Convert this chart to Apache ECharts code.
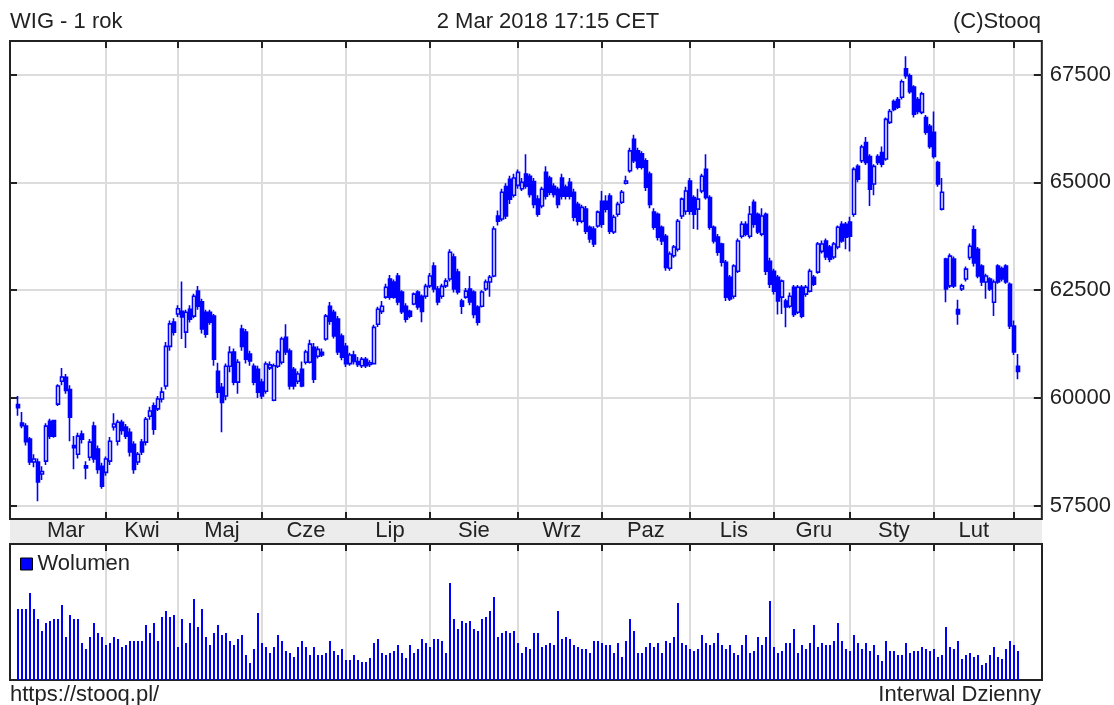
<!DOCTYPE html>
<html><head><meta charset="utf-8">
<script src="https://cdn.jsdelivr.net/npm/echarts@6/dist/echarts.min.js"></script>
<style>html,body{margin:0;padding:0;background:#fff}#c{width:1114px;height:705px}</style>
</head><body><div id="c"></div>
<script>
// ---- data ----
const monthNames = ['Mar','Kwi','Maj','Cze','Lip','Sie','Wrz','Paz','Lis','Gru','Sty','Lut','Mar'];
const monthSessions = [22,18,21,21,21,22,21,22,21,19,21,20,2];
const yTicks = [57500,60000,62500,65000,67500];

const opens = [
59850,59420,59350,59050,58520,58520,58240,58540,59460,59480,59860,60390,60480,60200,58900,58700,59170,58430,58630,59350,58820,58420,
58280,58540,59330,59000,59440,59330,59210,58930,58520,58980,58980,59580,59820,59750,59980,60280,61200,61760,
61950,62010,61530,62060,61900,62480,62230,61990,61990,61900,60620,60250,60050,60740,61070,60370,61600,61530,61020,60740,60670,
60370,60160,60700,59950,60740,60830,61410,61090,60670,60390,60670,60830,60830,61180,60970,61060,61370,62130,61990,61830,61440,
61200,60800,61000,60850,60750,60900,60780,60800,61710,62010,62340,62760,62690,62830,62460,62130,62010,62180,62460,62360,62360,
62600,63060,62530,62360,62600,62760,63270,62920,62250,62340,62530,62460,62110,62130,62530,62690,62830,64220,64150,64900,65070,64700,
64930,64850,65190,65140,65020,64610,64450,65230,65100,64910,64840,65100,64890,65000,64770,64490,64100,64380,63960,63920,63990,
64560,64560,64680,63850,64260,64540,64980,65270,66000,65730,65660,65500,65190,64310,64260,63960,63750,63010,63300,63450,64220,64330,
65030,64650,64380,64800,65300,64650,63960,63730,63570,63150,62800,62360,62940,63750,64030,63750,64540,64260,63800,64260,63170,
62940,62800,62340,62250,62130,62570,61990,62570,62410,62480,62800,62920,63400,63640,63500,63270,63500,64030,64030,
64080,64260,65370,65500,65920,65600,64960,65600,65690,65540,66390,66870,66920,66970,67630,67470,67210,66920,66620,66500,66300,
66160,65460,64380,63220,62600,63220,62050,62530,62760,63260,63900,63450,63060,62690,62760,62220,63060,63000,63060,62640,
61670,60740];
const closes = [
59780,59360,58990,58520,58590,58060,58300,59350,59120,59120,60280,60490,60180,59560,58850,59120,59050,58380,58980,58590,58350,57960,
58590,59000,59400,59440,59250,59120,58750,58350,58700,58750,59510,59700,59280,59980,60140,61200,61720,61530,
62070,61880,61990,61830,62360,62130,61600,61480,61760,60900,60140,59900,60740,61060,60370,60830,61200,60900,60860,60370,60140,
60050,60790,60770,60750,61070,61370,61070,60280,60280,60560,60280,61070,61250,60440,61130,61000,61900,61780,61440,61070,60950,
60800,61000,60850,60780,60900,60750,60820,61640,62060,62130,62570,62340,62340,62230,62000,61830,61900,62410,62110,62010,62590,
62830,62530,62230,62590,62710,63380,62530,62460,62130,62480,62230,61940,61760,62460,62690,62800,63920,64100,64770,64220,64610,65100,
65230,65000,64910,64720,64490,64260,64840,64680,64770,64720,64490,64680,64680,64680,64190,64100,64420,63870,63690,63570,64310,
64030,64380,63870,64190,64490,64770,65030,65730,65500,65350,65350,64890,64490,63960,63730,63640,63030,63340,63500,64100,64610,64800,
64330,64260,64610,65140,64650,63960,63640,63380,63150,62340,62300,63060,63640,64030,63800,64260,64030,63850,64220,62940,62640,
62480,62250,62710,62110,62360,61940,62570,61900,62570,62940,62640,63570,63570,63270,63220,63570,63960,63640,63730,
63750,65300,65070,65820,65460,64840,65370,65460,65420,66460,66640,66690,66740,67330,67470,67100,66580,66640,67050,66160,65830,
65600,64960,64770,62530,63290,62600,61950,62600,62990,63520,63130,62830,62690,62830,62530,62690,62690,62760,62690,61670,
61070,60620];
const lows = [
59590,59300,58900,58450,58400,57610,58100,58450,59050,59080,59820,60300,60100,59000,58350,58600,58950,58120,58550,58500,58250,57900,
58200,58450,59250,58900,59150,59050,58650,58250,58450,58680,58900,59500,59150,59700,59900,60200,61100,61450,
61880,61370,61160,61750,61850,62050,61500,61400,61700,60750,60000,59210,59950,60600,60300,60100,61100,60800,60750,60300,60000,
59980,60100,60650,59930,60700,60780,61000,60200,60200,60330,60250,60780,60800,60350,60920,60950,61330,61700,61380,61000,60880,
60720,60750,60780,60720,60700,60700,60720,60780,61650,61950,62300,62280,62300,62150,61950,61750,61850,62150,62050,61760,62300,
62550,62450,62150,62300,62550,62700,62450,62400,61950,62300,62150,61850,61680,62100,62480,62350,62800,64000,64100,64150,64500,64650,
64850,64800,64850,64650,64400,64200,64400,64600,64700,64650,64400,64600,64600,64600,64100,64000,64050,63800,63600,63500,63950,
63950,64300,63800,63800,64200,64500,64950,65220,65450,65300,65300,64800,64400,63900,63650,63550,62950,62950,63250,63400,64150,64250,
64250,63920,63900,64750,64600,63900,63580,63300,63050,62250,62250,62300,62900,63700,63750,63700,63950,63800,63750,62850,62550,
62400,61940,61950,61640,62080,61880,61950,61850,62350,62450,62600,62880,63350,63200,63150,63220,63450,63600,63450,
63400,64200,65000,65450,65400,64450,64700,65400,65350,65500,66350,66650,66700,66920,67400,67050,66500,66580,66580,66100,65780,
65550,64900,64350,62220,62550,62550,61700,62480,62700,63200,63050,62780,62600,62300,62480,61900,62650,62700,62650,61600,
61000,60440];
const highs = [
60050,59680,59420,59100,58700,58600,58420,59420,59520,59500,60320,60700,60560,60300,59120,59200,59250,58540,59050,59450,58900,58500,
58650,59100,59650,59500,59500,59400,59300,59000,58750,59050,59560,59800,59900,60050,60250,61300,61800,61850,
62150,62700,62050,62150,62420,62600,62300,62050,62050,61950,60820,60350,60800,61200,61150,60900,61700,61600,61100,60800,60750,
60450,60850,60850,60800,61120,61420,61710,61150,60720,60620,60850,61120,61350,61280,61200,61150,61950,62230,62050,61900,61500,
61280,61050,61100,60950,60950,60950,60880,61700,62120,62250,62650,62850,62750,62900,62500,62200,62050,62450,62500,62400,62650,
62900,63150,62600,62650,62780,63450,63350,63000,62300,62550,62830,62500,62150,62500,62750,62850,63980,64350,64850,64980,65150,65200,
65300,65100,65650,65200,65100,64700,64900,65370,65150,64980,64900,65200,64950,65100,64850,64550,64480,64450,64000,63980,64350,
64800,64700,64750,64250,64550,64820,65150,65800,66100,65800,65720,65560,65250,64400,64300,64000,63800,63400,63550,64150,64650,64900,
65100,64700,64850,65200,65650,64700,64000,63800,63600,63200,62850,63100,63700,64100,64100,64450,64600,64300,64400,64300,63250,
63000,62850,62750,62300,62450,62620,62620,62620,62620,63000,62850,63620,63650,63700,63550,63620,64000,64100,64080,
64200,65350,65420,65870,66050,65650,65420,65650,65830,66500,66700,66920,66980,67380,67920,67520,67250,66980,67100,66560,66350,
66640,65500,65100,63250,63350,63280,62280,62650,63050,63580,64000,63500,63100,62880,62800,62750,63100,63050,63100,62680,
61800,61020];
const volumes = [
710,710,710,870,710,610,490,570,590,610,610,750,430,650,610,610,370,310,430,570,470,430,
350,370,430,410,330,350,390,390,390,390,550,470,570,390,630,690,630,650,
330,610,370,570,810,530,710,430,350,470,550,450,470,390,350,410,450,250,170,310,670,
370,330,270,330,450,390,290,270,230,330,390,330,250,330,250,250,270,390,290,250,310,
200,200,250,200,180,180,220,370,410,270,250,270,290,350,270,220,350,270,310,410,370,
330,410,410,390,270,970,610,510,590,570,590,510,490,610,630,690,830,430,470,490,470,490,
370,270,330,310,470,470,330,350,370,350,690,410,430,410,350,330,310,310,270,390,390,
370,350,350,270,370,230,390,610,490,270,270,330,370,330,370,270,390,370,430,770,370,350,
310,290,310,450,370,350,370,470,350,310,350,270,250,350,450,270,290,430,350,430,790,
330,270,290,370,370,510,270,350,310,370,550,330,370,350,350,390,570,390,310,
290,450,370,310,370,290,350,250,190,390,290,290,250,250,370,270,290,290,330,310,290,
310,230,250,530,330,310,390,210,250,270,230,250,150,170,250,330,230,210,310,390,
350,290];

// ---- build categories / data ----
const LEAD = 2, TRAIL = 6;
const categories = [];
for (let i = 0; i < LEAD; i++) categories.push('pre' + i);
const monthStart = [];
monthNames.forEach((m, mi) => {
  monthStart.push(categories.length);
  for (let d = 1; d <= monthSessions[mi]; d++) categories.push(m + '-' + mi + '-' + d);
});
const dataEnd = categories.length;
for (let i = 0; i < TRAIL; i++) categories.push('post' + i);

const candleData = categories.map((c, i) => {
  const k = i - LEAD;
  if (k < 0 || i >= dataEnd) return '-';
  return [opens[k], closes[k], lows[k], highs[k]];
});
const volData = categories.map((c, i) => {
  const k = i - LEAD;
  if (k < 0 || i >= dataEnd) return '-';
  return volumes[k];
});

const tickSet = new Set(monthStart.slice(1));
const labelMap = new Map();
for (let mi = 0; mi < 12; mi++) {
  const a = monthStart[mi] + (mi === 0 ? 2 : 0), b = monthStart[mi + 1];
  labelMap.set(Math.round((a + b) / 2), monthNames[mi]);
}

const FONT = "'Liberation Sans', Arial, sans-serif";
const TXT = '#222';
const GRIDC = '#dcdcdc';
const yMin = 57199, yMax = 68275;

const chart = echarts.init(document.getElementById('c'), null, {renderer: 'canvas'});
chart.setOption({
  animation: false,
  backgroundColor: '#fff',
  textStyle: {fontFamily: FONT},
  graphic: [
    {type: 'rect', z: -1, shape: {x: 10, y: 519, width: 1032, height: 25}, style: {fill: '#ececec'}},
    {type: 'text', style: {x: 10, y: 22, text: 'WIG - 1 rok', font: '22px ' + FONT, fill: TXT, align: 'left', verticalAlign: 'middle', textAlign: 'left', textVerticalAlign: 'middle'}},
    {type: 'text', style: {x: 548, y: 22, text: '2 Mar 2018 17:15 CET', font: '22px ' + FONT, fill: TXT, align: 'center', verticalAlign: 'middle', textAlign: 'center', textVerticalAlign: 'middle'}},
    {type: 'text', style: {x: 1041, y: 22, text: '(C)Stooq', font: '22px ' + FONT, fill: TXT, align: 'right', verticalAlign: 'middle', textAlign: 'right', textVerticalAlign: 'middle'}},
    {type: 'text', style: {x: 10, y: 695, text: 'https://stooq.pl/', font: '22px ' + FONT, fill: TXT, align: 'left', verticalAlign: 'middle', textAlign: 'left', textVerticalAlign: 'middle'}},
    {type: 'text', style: {x: 1041, y: 695, text: 'Interwal Dzienny', font: '22px ' + FONT, fill: TXT, align: 'right', verticalAlign: 'middle', textAlign: 'right', textVerticalAlign: 'middle'}}
  ],
  legend: {
    data: ['Wolumen'], left: 20, top: 553, padding: 0, icon: 'rect', itemWidth: 12, itemHeight: 12,
    itemStyle: {borderColor: '#000', borderWidth: 1},
    textStyle: {fontSize: 22, color: TXT, fontFamily: FONT}
  },
  grid: [
    {left: 10, top: 41, width: 1032, height: 478, show: true, borderColor: '#222', borderWidth: 2, backgroundColor: 'transparent'},
    {left: 10, top: 544, width: 1032, height: 136, show: true, borderColor: '#222', borderWidth: 2, backgroundColor: 'transparent'}
  ],
  xAxis: [
    {
      type: 'category', gridIndex: 0, data: categories, boundaryGap: false, position: 'bottom',
      axisLine: {show: false, onZero: false},
      axisTick: {show: true, inside: true, length: 7, interval: (i) => tickSet.has(i), lineStyle: {color: '#222', width: 2}},
      axisLabel: {show: true, interval: (i) => labelMap.has(i), formatter: (v, i) => labelMap.get(i) || '', fontSize: 22, color: TXT, fontFamily: FONT, margin: 1},
      splitLine: {show: true, interval: (i) => tickSet.has(i), lineStyle: {color: GRIDC, width: 2}}
    },
    {
      type: 'category', gridIndex: 0, data: categories, boundaryGap: false, position: 'top',
      axisLine: {show: false, onZero: false},
      axisTick: {show: true, inside: true, length: 7, interval: (i) => tickSet.has(i), lineStyle: {color: '#222', width: 2}},
      axisLabel: {show: false}, splitLine: {show: false}
    },
    {
      type: 'category', gridIndex: 1, data: categories, boundaryGap: false, position: 'top',
      axisLine: {show: false, onZero: false},
      axisTick: {show: true, inside: true, length: 7, interval: (i) => tickSet.has(i), lineStyle: {color: '#222', width: 2}},
      axisLabel: {show: false},
      splitLine: {show: true, interval: (i) => tickSet.has(i), lineStyle: {color: GRIDC, width: 2}}
    }
  ],
  yAxis: [
    {
      type: 'value', gridIndex: 0, position: 'right', min: yMin, max: yMax, scale: true,
      axisLine: {show: false, onZero: false},
      axisTick: {show: true, inside: true, length: 8, customValues: yTicks, lineStyle: {color: '#222', width: 2}},
      axisLabel: {show: true, customValues: yTicks, margin: 8, fontSize: 22, color: TXT, fontFamily: FONT, formatter: (v) => String(v)},
      splitLine: {show: true, lineStyle: {color: GRIDC, width: 2}}
    },
    {
      type: 'value', gridIndex: 0, position: 'left', min: yMin, max: yMax, scale: true,
      axisLine: {show: false, onZero: false},
      axisTick: {show: true, inside: true, length: 7, customValues: yTicks, lineStyle: {color: '#222', width: 2}},
      axisLabel: {show: false}, splitLine: {show: false}
    },
    {
      type: 'value', gridIndex: 1, min: 0, max: 1360,
      axisLine: {show: false, onZero: false}, axisTick: {show: false}, axisLabel: {show: false}, splitLine: {show: false}
    }
  ],
  series: [
    {
      name: 'WIG', type: 'candlestick', xAxisIndex: 0, yAxisIndex: 0, data: candleData, barWidth: 3,
      itemStyle: {color: '#ffffff', color0: '#0000ff', borderColor: '#0000ff', borderColor0: '#0000ff', borderWidth: 1.6}
    },
    {
      name: 'Wolumen', type: 'bar', xAxisIndex: 2, yAxisIndex: 2, data: volData, barWidth: 2,
      itemStyle: {color: '#0000ff'}
    }
  ]
});
</script></body></html>
